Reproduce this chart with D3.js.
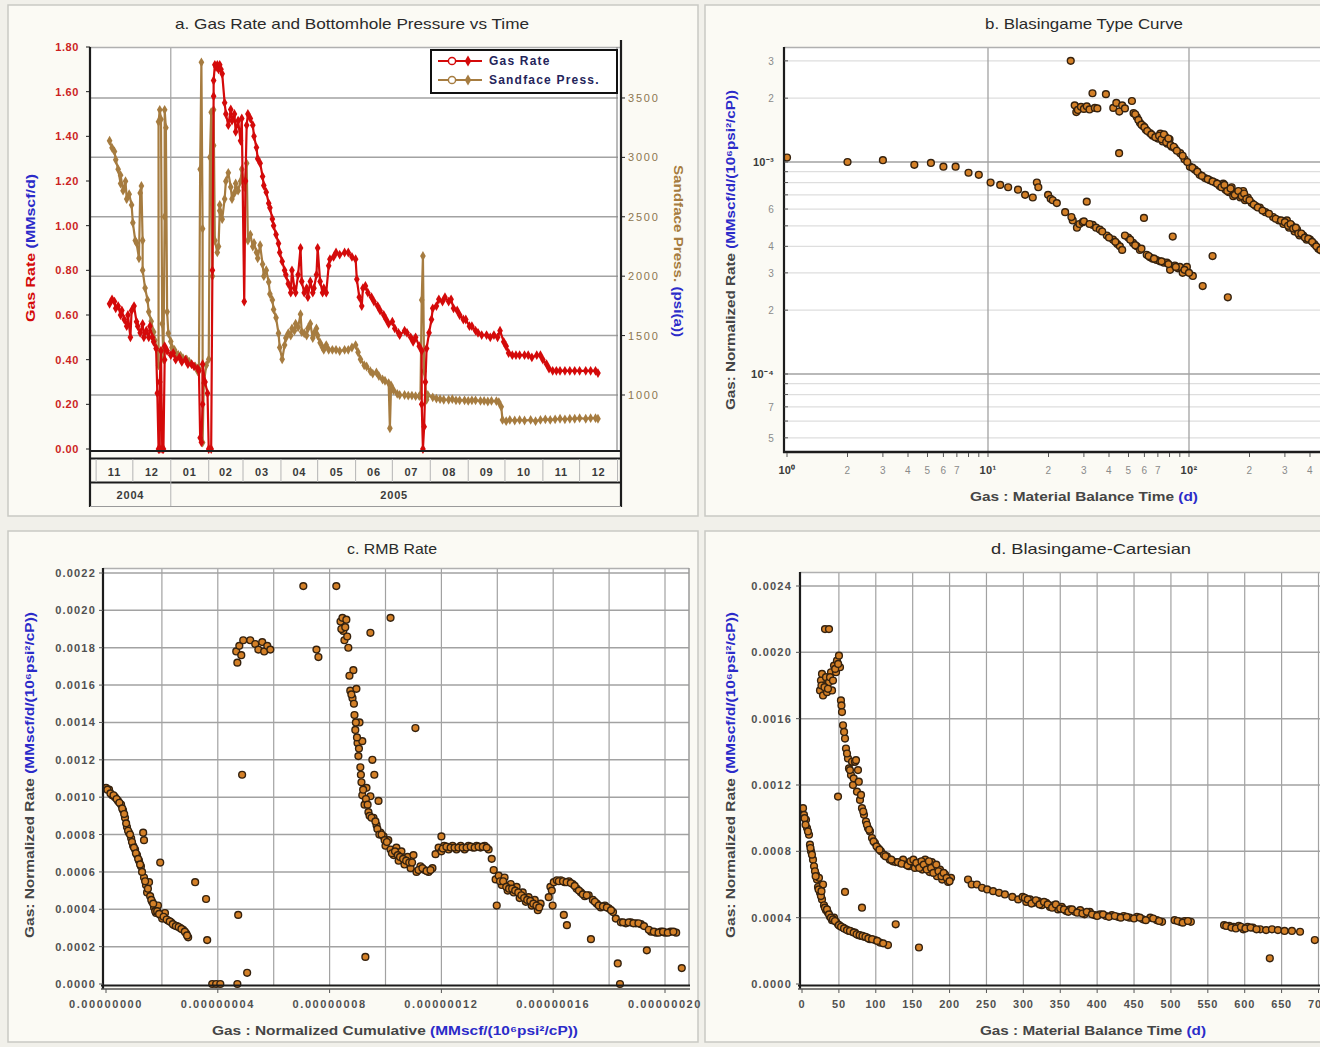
<!DOCTYPE html>
<html>
<head>
<meta charset="utf-8">
<script src="https://cdn.jsdelivr.net/npm/d3@7"></script>
<style>
  body { margin: 0; background: #f1f0ea; }
  svg text { font-family: "Liberation Sans", Arial, sans-serif; }
</style>
</head>
<body>
<svg id="chart" width="1320" height="1047"></svg>
<script>
// ---------------------------------------------------------------------------
// Well production data
// ---------------------------------------------------------------------------
// Daily records: [days since 2004-11-01, value]
const prodStart = new Date(2004, 10, 1);

// Gas rate, MMscf/d
const gasRate = [
  [11,0.65],[13,0.67],[15,0.66],[16,0.63],[18,0.64],[20,0.60],[21,0.62],[23,0.58],[25,0.55],[26,0.60],
  [28,0.50],[29,0.62],[31,0.64],[33,0.57],[34,0.55],[36,0.52],[38,0.56],[39,0.50],[41,0.53],[43,0.50],
  [44,0.55],[46,0.50],[47,0.48],[49,0.45],[50,0.25],[51,0.00],[52,0.00],[52,0.30],[53,0.44],[54,0.00],
  [55,0.00],[56,0.40],[56,0.46],[58,0.44],[61,0.42],[63,0.43],[65,0.40],[68,0.41],[70,0.39],[73,0.40],
  [75,0.38],[78,0.38],[80,0.37],[83,0.36],[84,0.35],[85,0.05],[86,0.03],[87,0.20],[87,0.38],[89,0.30],
  [91,0.25],[92,0.00],[94,0.00],[95,0.80],[96,1.58],[96,1.65],[97,1.72],[98,1.71],[99,1.72],[100,1.70],
  [101,1.72],[102,1.70],[103,1.68],[105,1.55],[106,1.50],[108,1.45],[110,1.52],[111,1.47],[113,1.50],[114,1.42],
  [116,1.47],[118,1.38],[119,1.48],[121,0.66],[122,1.20],[123,1.45],[124,1.50],[126,1.48],[128,1.45],[129,1.40],
  [131,1.35],[132,1.30],[134,1.28],[136,1.22],[137,1.18],[139,1.15],[141,1.10],[142,1.08],[144,1.03],[145,1.00],
  [147,0.96],[149,0.92],[150,0.88],[152,0.84],[154,0.80],[155,0.78],[157,0.74],[159,0.70],[160,0.80],[162,0.72],
  [163,0.70],[165,0.78],[167,0.90],[168,0.75],[170,0.70],[172,0.72],[173,0.68],[175,0.75],[177,0.70],[178,0.72],
  [180,0.78],[181,0.90],[183,0.75],[185,0.70],[186,0.72],[188,0.70],[190,0.82],[191,0.85],[194,0.86],[196,0.88],
  [199,0.87],[203,0.88],[206,0.88],[209,0.86],[212,0.85],[213,0.76],[215,0.68],[217,0.64],[218,0.72],[220,0.73],
  [222,0.70],[225,0.68],[227,0.66],[230,0.64],[232,0.62],[235,0.60],[237,0.58],[239,0.56],[242,0.57],[244,0.54],
  [247,0.52],[248,0.51],[252,0.53],[254,0.52],[257,0.50],[259,0.48],[261,0.50],[264,0.46],[266,0.44],[266,0.20],
  [267,0.00],[268,0.10],[269,0.30],[270,0.45],[272,0.52],[274,0.58],[275,0.63],[278,0.64],[280,0.67],[283,0.66],
  [285,0.68],[288,0.66],[290,0.67],[292,0.63],[295,0.62],[297,0.60],[300,0.58],[302,0.58],[305,0.55],[307,0.55],
  [310,0.53],[312,0.52],[315,0.51],[319,0.51],[322,0.50],[325,0.51],[328,0.50],[330,0.53],[333,0.48],[335,0.46],
  [337,0.43],[340,0.42],[343,0.42],[346,0.42],[350,0.42],[353,0.42],[356,0.41],[360,0.42],[363,0.42],[365,0.40],
  [368,0.38],[370,0.36],[373,0.35],[376,0.35],[379,0.35],[383,0.35],[387,0.35],[391,0.35],[395,0.35],[400,0.35],
  [404,0.35],[408,0.35],[410,0.34]
];

// Sandface pressure, psi(a)
const sandfacePress = [
  [11,3140],[13,3080],[15,3050],[16,2980],[18,2900],[20,2780],[20,2850],[22,2720],[24,2800],[25,2650],
  [27,2690],[29,2600],[30,2450],[32,2300],[33,2280],[35,2150],[36,2700],[37,2760],[38,2300],[38,2050],
  [40,1900],[42,1800],[43,1700],[45,1620],[47,1530],[48,1460],[50,1380],[51,1250],[51,3300],[52,3400],
  [53,3320],[54,1600],[55,1300],[56,2500],[56,3400],[57,3250],[58,1700],[59,1520],[61,1450],[62,1400],
  [64,1380],[65,1350],[67,1340],[69,1330],[71,1310],[74,1300],[76,1280],[78,1260],[81,1240],[83,1200],
  [84,1220],[85,2900],[86,3800],[87,2400],[87,600],[88,1100],[90,1250],[92,1300],[93,3000],[94,3380],
  [95,2000],[96,3100],[96,3400],[97,2300],[99,2200],[100,2250],[101,2550],[101,2600],[103,2480],[105,2650],
  [106,2800],[108,2870],[110,2750],[111,2650],[113,2700],[114,2780],[116,2720],[118,2800],[119,2900],[121,2750],
  [123,2950],[124,2300],[126,2350],[128,2250],[129,2280],[131,2200],[132,2150],[134,2260],[136,2100],[137,2000],
  [139,2050],[141,1950],[142,1850],[144,1800],[145,1720],[147,1650],[149,1520],[150,1400],[152,1300],[154,1420],
  [155,1480],[157,1520],[159,1500],[160,1560],[162,1540],[163,1600],[165,1570],[167,1680],[168,1530],[170,1520],
  [172,1500],[173,1560],[175,1600],[177,1480],[178,1520],[180,1560],[181,1500],[183,1440],[185,1400],[186,1380],
  [188,1420],[190,1380],[193,1380],[196,1380],[199,1370],[203,1380],[206,1380],[209,1400],[212,1420],[214,1360],
  [216,1300],[219,1250],[221,1240],[224,1200],[226,1180],[229,1190],[231,1160],[234,1130],[236,1120],[239,1100],
  [240,720],[241,1080],[243,1040],[246,1010],[248,1000],[252,1000],[255,995],[258,995],[261,990],[264,990],
  [265,1000],[266,1800],[267,2170],[268,1200],[270,960],[271,1000],[275,980],[278,970],[281,965],[284,960],
  [288,960],[291,965],[294,955],[297,955],[301,955],[304,950],[307,955],[310,955],[314,950],[317,950],
  [320,945],[323,950],[327,948],[329,940],[331,900],[332,790],[335,780],[338,790],[342,785],[346,790],
  [350,785],[355,790],[359,780],[363,790],[367,795],[371,790],[375,795],[379,800],[383,795],[387,800],
  [391,800],[395,805],[400,800],[404,805],[408,805],[410,800]
];

// Blasingame type curve: [material balance time (d), normalized rate (1e-4 MMscf/d/(10^6 psi^2/cP))]
const typeCurvePts = [
  [1.0,10.5],[2.0,10.0],[3.0,10.2],[4.3,9.7],[5.2,9.9],[6.0,9.5],[6.9,9.5],[8.0,8.9],[9.0,8.7],[10.3,8.0],
  [11.5,7.8],[12.6,7.6],[14.1,7.4],[15.3,7.0],[16.7,6.8],[17.5,8.0],[17.8,7.6],[19.9,7.0],[20.5,6.7],[21.0,6.6],
  [22.0,6.4],[24.2,5.8],[26.4,5.3],[27.7,4.9],[28.5,5.1],[29.6,5.2],[31.0,6.5],[33.2,5.05],[34.5,4.9],[36.0,4.8],
  [39.0,4.5],[41.9,4.3],[44.0,4.1],[45.3,4.0],[46.5,3.85],[49.8,4.4],[52.7,4.15],[55.0,4.0],[57.0,3.85],[59.7,5.45],
  [61.6,3.65],[64.0,3.55],[66.0,3.5],[69.0,3.45],[71.7,3.4],[75.0,3.35],[77.6,3.35],[80.5,3.1],[83.0,4.45],[85.0,3.25],
  [88.0,3.15],[90.0,3.2],[93.0,3.0],[97.6,3.2],[104.5,2.9],[117,2.6],[131,3.6],[156,2.3],
  [26,5.5],[30,5.25],[32,5.1],[37,4.7],[40,4.4],[43,4.2],[48,4.5],[51,4.3],[54,4.05],[58,3.9],
  [63,3.6],[67,3.5],[73,3.4],[79,3.3],[86,3.2],[95,3.1],[100,3.0],
  [25.8,30],[27.0,18.5],[27.5,17.2],[28.0,17.6],[29.0,18.2],[30.0,17.8],[31.0,18.3],[32.0,17.7],[33.1,21.1],[34.0,18.0],
  [35.0,17.9],[38.6,20.9],[42.0,18.0],[43.5,19.0],[44.9,11.0],[45.0,17.3],[46.5,18.5],[48.0,17.9],[52.0,19.4],[53.0,17.0],
  [55.0,16.3],[57.0,15.3],[59.0,14.8],[61.0,14.2],[63.9,13.7],[66.0,13.3],[70.0,12.9],[72.0,13.6],[74.0,12.5],[76.0,13.2],
  [78.0,12.2],[80.0,12.8],[82.0,11.8],[85.0,11.6],[90.4,11.0],[95.0,10.3],[101,9.5],[107,9.2],[113,8.7],[120,8.4],
  [127,8.2],[135,8.0],[142,7.7],[148,7.9],[152,7.4],[158,7.2],[163,7.6],[166,6.9],[172,7.1],[180,6.8],
  [186,7.3],[190,6.6],[196,6.8],[205,6.4],[215,6.2],[225,6.1],[240,5.8],[262,5.5],[280,5.3],[295,5.1],
  [307,5.3],[315,4.9],[325,5.0],[335,4.7],[345,4.8],[355,4.5],[370,4.5],[385,4.3],[400,4.3],[420,4.1],
  [440,3.9],[460,3.8],[480,3.7],
  [54,16.8],[56,15.8],[58,15.0],[60,14.6],[62,14.0],[65,13.5],[68,13.1],[71,13.3],[73,12.8],[75,13.5],
  [77,12.4],[79,12.9],[81,12.0],[84,11.8],[87,11.3],[93,10.7],[98,10.0],[104,9.4],[110,9.0],[116,8.6],
  [124,8.3],[131,8.1],[138,7.9],[145,7.6],[150,7.8],[155,7.3],[161,7.5],[169,7.0],[176,7.3],[183,6.9],
  [188,7.1],[193,6.7],[200,6.6],[210,6.3],[220,6.1],[232,5.9],[250,5.7],[270,5.4],[287,5.3],[300,5.2],
  [311,5.0],[320,5.1],[330,4.85],[340,4.9],[350,4.6],[362,4.6],[377,4.4],[392,4.35],[410,4.2],[430,4.0],[450,3.85]
];

// RMB rate: [normalized cumulative (1e-8 MMscf/(10^6 psi^2/cP)), normalized rate (1e-4)]
const rmbPts = [
  [0.00,10.5],[0.11,10.4],[0.22,10.1],[0.32,10.0],[0.43,9.8],[0.54,9.6],[0.61,9.3],[0.68,8.9],[0.75,8.4],[0.82,8.1],
  [0.90,7.8],[0.97,7.4],[1.04,7.2],[1.11,6.9],[1.18,6.6],[1.25,6.3],[1.33,8.1],[1.36,7.7],[1.36,5.7],[1.43,5.3],
  [1.47,4.9],[1.54,5.45],[1.58,4.7],[1.65,4.4],[1.72,4.1],[1.79,3.8],[1.86,4.2],[1.94,6.5],[1.94,3.7],[2.01,3.5],
  [2.11,3.8],[2.22,3.4],[2.33,3.3],[2.44,3.15],[2.54,3.1],[2.65,3.0],[2.76,2.9],[2.87,2.7],[2.94,2.5],[3.19,5.45],
  [3.58,4.55],[3.62,2.35],[3.80,0],[3.94,0],[4.09,0],[4.70,0],[4.73,3.7],[5.05,0.6],
  [0.05,10.4],[0.16,10.2],[0.27,10.1],[0.38,9.9],[0.48,9.7],[0.58,9.4],[0.65,9.1],[0.72,8.6],[0.79,8.2],[0.86,8.0],
  [0.93,7.6],[1.0,7.3],[1.07,7.0],[1.15,6.7],[1.22,6.4],[1.29,6.0],[1.40,5.5],[1.5,5.1],[1.62,4.5],[1.69,4.3],
  [1.76,3.9],[1.83,3.9],[1.9,3.75],[2.06,3.6],[2.17,3.45],[2.28,3.35],[2.39,3.2],[2.5,3.1],[2.6,3.05],[2.7,2.95],
  [2.82,2.8],[2.9,2.6],
  [4.66,17.8],[4.70,17.2],[4.77,18.1],[4.84,17.6],[4.91,18.4],[4.87,11.2],[5.16,18.4],[5.34,18.2],[5.45,17.9],[5.59,18.3],
  [5.66,17.8],[5.77,18.1],[5.88,17.9],[7.06,21.3],[7.53,17.9],[7.60,17.5],[8.24,21.3],
  [8.39,19.4],[8.46,19.6],[8.49,18.9],[8.53,18.4],[8.60,19.5],[8.67,18.0],[8.74,15.7],[8.82,15.3],[8.85,16.8],[8.89,14.4],
  [8.92,13.6],[8.96,15.8],[9.00,12.9],[9.03,12.2],[9.07,14.0],[9.10,11.6],[9.14,10.8],[9.17,10.1],[9.17,13.0],[9.25,9.6],
  [9.28,1.45],[9.32,10.5],[9.39,9.2],[9.46,18.8],[9.46,10.05],[9.53,12.0],[9.57,8.9],[9.60,11.2],[9.68,8.5],[9.75,9.8],
  [9.82,8.1],[9.93,7.9],[10.0,7.4],[10.1,7.7],[10.18,19.6],[10.18,7.2],[10.29,6.9],[10.39,7.3],[10.47,6.6],[10.57,7.1],
  [10.68,6.4],[10.79,6.8],[10.9,6.2],[11.0,6.9],[11.07,13.7],[11.11,6.0],[11.25,6.3],[11.4,6.1],[11.54,6.0],[11.68,6.2],
  [8.42,19.0],[8.56,19.1],[8.63,18.6],[8.71,16.5],[8.78,15.5],[8.87,15.0],[8.94,14.0],[8.98,13.2],[9.05,12.6],[9.12,11.2],
  [9.2,10.4],[9.3,9.9],[9.36,9.6],[9.43,9.0],[9.5,8.9],[9.64,8.7],[9.71,8.3],[9.78,8.0],[9.86,8.0],[9.97,7.7],
  [10.05,7.6],[10.23,7.0],[10.34,7.1],[10.44,6.9],[10.52,6.8],[10.63,6.7],[10.74,6.6],[10.85,6.5],[10.95,6.5],[11.18,6.1],
  [11.32,6.2],[11.47,6.05],[11.61,6.1],
  [11.79,6.95],[11.9,7.3],[12.0,7.9],[12.0,7.1],[12.1,7.4],[12.26,7.2],[12.4,7.4],[12.54,7.2],[12.69,7.4],[12.83,7.2],
  [12.97,7.4],[13.12,7.3],[13.26,7.4],[13.4,7.3],[13.55,7.4],[13.69,7.2],[13.8,6.7],[13.87,6.1],[13.94,5.6],[13.98,4.2],
  [12.05,7.25],[12.18,7.35],[12.33,7.3],[12.47,7.3],[12.61,7.3],[12.76,7.3],[12.9,7.3],[13.05,7.35],[13.19,7.3],[13.33,7.35],
  [13.48,7.35],[13.62,7.3],
  [14.05,5.8],[14.16,5.3],[14.26,5.7],[14.37,5.0],[14.48,5.35],[14.59,4.9],[14.69,5.2],[14.8,4.6],[14.91,4.9],[15.02,4.4],
  [15.12,4.65],[15.23,4.2],[15.34,4.5],[15.45,3.95],[15.55,4.3],
  [14.1,5.5],[14.21,5.5],[14.32,5.2],[14.42,5.1],[14.53,5.1],[14.64,5.0],[14.75,4.9],[14.86,4.75],[14.96,4.6],[15.07,4.5],
  [15.18,4.45],[15.29,4.3],[15.4,4.2],[15.5,4.1],
  [15.84,4.65],[15.9,5.2],[15.98,4.2],[16.02,5.45],[16.13,5.55],[16.27,5.55],[16.38,3.7],[16.41,5.45],[16.49,3.15],[16.56,5.5],
  [16.7,5.35],[16.84,5.1],[16.99,4.9],[17.13,4.7],[17.27,4.75],[17.35,2.4],[17.42,4.5],[17.56,4.3],[17.7,4.1],[17.85,4.2],
  [17.99,4.05],[18.14,3.85],[18.24,3.5],[18.31,1.1],[18.39,0],
  [15.95,5.0],[16.2,5.5],[16.35,5.5],[16.48,5.45],[16.63,5.4],[16.77,5.25],[16.92,5.0],[17.06,4.8],[17.2,4.75],[17.49,4.4],
  [17.63,4.2],[17.78,4.15],[17.92,4.1],[18.07,3.95],
  [18.42,3.3],[18.6,3.25],[18.78,3.3],[18.96,3.25],[19.14,3.2],[19.35,1.8],[19.5,2.8],[19.68,2.75],[19.85,2.8],[20.0,2.75],
  [20.2,2.8],[20.4,2.75],[20.6,0.85],
  [18.5,3.3],[18.7,3.3],[18.87,3.25],[19.05,3.25],[19.25,3.1],[19.42,2.9],[19.6,2.8],[19.77,2.75],[19.93,2.8],[20.1,2.75],[20.3,2.8]
];

// Blasingame cartesian: [material balance time (d), normalized rate (1e-4)]
const cartesianPts = [
  [1.4,10.6],[2.7,10.2],[5.4,9.9],[6.8,9.4],[9.5,9.0],[10.8,8.4],[12.2,8.0],[14.9,7.5],[16.3,7.1],[19.0,6.6],
  [20.3,6.3],[21.7,5.85],[23.0,6.4],[24.4,5.5],[27.1,5.1],[28.5,6.0],[29.8,4.75],[32.5,4.45],[35.2,4.3],[37.9,4.05],
  [40.7,3.85],[43.4,4.0],[46.1,3.75],[48.8,3.6],[51.5,3.5],[55.6,3.4],[59.6,3.3],[63.7,3.2],[67.8,3.15],[71.8,3.1],
  [75.9,2.95],[79.9,2.9],[84.0,2.85],[88.1,2.8],[92.1,2.7],[98.9,2.65],[105.7,2.5],[116.5,2.35],
  [3.5,10.0],[4.8,9.6],[8.1,9.2],[11.5,8.2],[13.5,7.8],[17.6,6.8],[18.5,6.5],[22.5,5.7],[25.7,5.3],[26.4,5.6],
  [31,4.6],[33.9,4.5],[36.6,4.2],[39.3,4.0],[42,3.9],[44.7,3.8],[50,3.55],[53,3.45],[57,3.35],[61,3.25],
  [65,3.2],[70,3.1],[74,3.0],[78,2.95],[82,2.9],[86,2.85],[90,2.75],[95,2.7],[102,2.6],[110,2.45],
  [58.3,5.55],[81.3,4.6],[127,3.6],[158.5,2.2],
  [31.2,21.4],[36.6,21.4],[24.4,17.7],[25.7,18.3],[27.1,18.7],[28.5,17.4],[29.8,18.0],[32.5,18.5],[33.9,17.6],[36.6,18.2],
  [39.3,18.8],[40.7,17.7],[43.4,19.2],[46.1,18.8],[47.4,19.5],[50.1,19.8],[51.5,19.1],[48.8,11.3],[52.8,17.1],[54.2,16.4],
  [55.6,15.6],[58.3,14.8],[59.6,14.2],[62.3,13.6],[63.7,13.0],[66.4,12.6],[67.8,13.4],[69.1,12.0],[71.8,13.4],[73.2,13.5],
  [74.5,11.6],[75.9,12.9],[78.6,11.1],[81.3,10.6],[84.0,10.2],[86.7,9.8],[89.4,9.4],[92.1,9.2],[94.9,8.8],[98.9,8.5],
  [103,8.2],[107,8.0],[111,7.8],[115,7.7],[119,7.5],[123,7.4],[127,7.35],[133,7.3],[137,7.5],[141,7.2],
  [145,7.1],[149,7.35],[153,7.0],[157,7.2],[160,7.35],[163,6.9],[167,7.5],[171,7.1],[173,6.75],[176,7.35],
  [180,7.0],[183,6.5],[187,6.9],[190,6.3],[194,6.6],[198,6.15],[202,6.4],
  [26.4,18.0],[30.5,17.9],[35.2,17.8],[38,18.5],[42,18.3],[45,19.0],[49,19.3],[53.5,16.8],[57,15.2],[61,13.9],
  [65,12.9],[70,12.4],[77,12.2],[80,11.4],[83,10.4],[88,9.6],[91,9.3],[97,8.6],[101,8.3],[105,8.1],
  [113,7.7],[121,7.5],[130,7.35],[135,7.25],[143,7.15],[147,7.4],
  [151,7.5],[155,7.3],[159,7.0],[162,7.4],[165,7.2],[169,6.9],[172,7.4],[175,7.0],[178,6.7],[182,7.2],
  [185,6.8],[189,6.5],[192,6.7],[196,6.4],[200,6.2],
  [225,6.3],[230,6.0],[237,6.0],[244,5.8],[251,5.7],[259,5.6],[267,5.5],[275,5.4],[285,5.25],[293,5.1],
  [299,5.25],[304,4.95],[309,5.1],[314,4.9],[320,5.0],[325,4.75],[331,4.9],[336,4.65],[341,4.75],[347,4.5],
  [352,4.65],[358,4.4],[363,4.5],[370,4.35],[377,4.45],[383,4.2],[390,4.35],[397,4.15],[404,4.2],[412,4.1],
  [420,4.15],[428,4.05],[436,4.1],[444,4.0],[454,4.05],[462,3.9],[472,4.0],[481,3.85],[488,3.75],[505,3.85],
  [512,3.75],[519,3.8],[527,3.75],[572,3.55],[579,3.5],[585,3.45],[592,3.5],[598,3.3],[604,3.45],[611,3.4],
  [621,3.3],[629,3.25],[634,1.55],[637,3.3],[645,3.25],[654,3.2],[664,3.2],[675,3.15],[695,2.65],
  [302,5.2],[306,5.1],[311,4.85],[317,5.05],[322,4.8],[328,4.95],[333,4.8],[339,4.6],[344,4.8],[350,4.55],
  [355,4.5],[361,4.35],[366,4.5],[373,4.3],[380,4.25],[386,4.35],[393,4.2],[400,4.1],[408,4.2],[416,4.05],
  [424,4.1],[432,4.0],[440,4.05],[450,3.95],[458,4.0],[466,3.85],[476,3.95],[484,3.8],[509,3.8],[516,3.7],
  [523,3.8],[575,3.5],[582,3.4],[588,3.35],[595,3.45],[601,3.35],[608,3.4],[616,3.3]
];

// Axis tick sets
const rateTicks = [0, 0.2, 0.4, 0.6, 0.8, 1.0, 1.2, 1.4, 1.6, 1.8];
const pressTicks = [1000, 1500, 2000, 2500, 3000, 3500];
const logTimeTicks = [
  [1,"10⁰"],[2,"2"],[3,"3"],[4,"4"],[5,"5"],[6,"6"],[7,"7"],
  [10,"10¹"],[20,"2"],[30,"3"],[40,"4"],[50,"5"],[60,"6"],[70,"7"],
  [100,"10²"],[200,"2"],[300,"3"],[400,"4"]
];
const logRateTicks = [
  [30,"3"],[20,"2"],[10,"10⁻³"],[6,"6"],[4,"4"],[3,"3"],[2,"2"],[1,"10⁻⁴"],[0.7,"7"],[0.5,"5"]
];
const cumTicks = [0, 4, 8, 12, 16, 20];
const rmbRateTicks = [0, 2, 4, 6, 8, 10, 12, 14, 16, 18, 20, 22];
const mbtTicks = d3.range(0, 701, 50);
const cartRateTicks = [0, 4, 8, 12, 16, 20, 24];

// ---------------------------------------------------------------------------
// Styles
// ---------------------------------------------------------------------------
const COL = {
  red: "#d40a0a", brown: "#a67c40", grid: "#a2a2a2", gridLight: "#dedede",
  axis: "#1c1c1c", text: "#3c3c3c", tick: "#505050", blue: "#2b2bc9",
  dotFill: "#d48027", dotStroke: "#35220f", panel: "#fbfaf4", frame: "#c9c9c4"
};

const svg = d3.select("#chart");
const defs = svg.append("defs");

function clip(id, x, y, w, h) {
  defs.append("clipPath").attr("id", id)
    .append("rect").attr("x", x).attr("y", y).attr("width", w).attr("height", h);
  return `url(#${id})`;
}

function panelBox(x, y, w, h) {
  svg.append("rect").attr("x", x).attr("y", y).attr("width", w).attr("height", h)
    .attr("fill", COL.panel).attr("stroke", COL.frame).attr("stroke-width", 1.5);
}

function title(txt, cx, y, len) {
  svg.append("text").attr("x", cx).attr("y", y).attr("text-anchor", "middle")
    .attr("font-size", 15).attr("fill", "#2a2a2a")
    .attr("textLength", len).attr("lengthAdjust", "spacingAndGlyphs").text(txt);
}

// Two-coloured axis title: label part, then units in blue
function axisTitle(parts, x, y, rotate, len) {
  const t = svg.append("text")
    .attr("transform", `translate(${x},${y}) rotate(${rotate})`)
    .attr("text-anchor", "middle").attr("font-size", 12).attr("font-weight", "bold")
    .attr("textLength", len).attr("lengthAdjust", "spacingAndGlyphs");
  parts.forEach(([s, c]) => t.append("tspan").attr("fill", c).text(s));
}

function hline(g, x1, x2, y, color, w) {
  g.append("line").attr("x1", x1).attr("x2", x2).attr("y1", y).attr("y2", y)
    .attr("stroke", color).attr("stroke-width", w);
}
function vline(g, x, y1, y2, color, w) {
  g.append("line").attr("x1", x).attr("x2", x).attr("y1", y1).attr("y2", y2)
    .attr("stroke", color).attr("stroke-width", w);
}

function scatter(g, data, x, y, clipUrl) {
  g.append("g").attr("clip-path", clipUrl)
    .selectAll("circle").data(data).join("circle")
    .attr("cx", d => x(d[0])).attr("cy", d => y(d[1])).attr("r", 3.4)
    .attr("fill", COL.dotFill).attr("stroke", COL.dotStroke).attr("stroke-width", 1.4);
}

function tickText(g, x, y, txt, anchor, opts = {}) {
  g.append("text").attr("x", x).attr("y", y).attr("text-anchor", anchor)
    .attr("font-size", opts.size || 11).attr("font-weight", opts.weight || "bold")
    .attr("letter-spacing", opts.ls == null ? 1 : opts.ls)
    .attr("fill", opts.color || COL.tick).text(txt);
}

// ---------------------------------------------------------------------------
// Panel frames
// ---------------------------------------------------------------------------
panelBox(8, 5, 690, 511);
panelBox(705, 5, 640, 511);
panelBox(8, 531, 690, 511);
panelBox(705, 531, 640, 511);

// ---------------------------------------------------------------------------
// a. Gas rate and bottomhole pressure vs time
// ---------------------------------------------------------------------------
{
  const g = svg.append("g");
  const toDate = d => d3.timeDay.offset(prodStart, d);
  const x = d3.scaleTime().domain([new Date(2004, 9, 27), new Date(2006, 0, 3)]).range([90, 620]);
  const yRate = d3.scaleLinear().domain([0, 1.8]).range([449, 47]);
  const yPress = d3.scaleLinear().domain([537, 3929]).range([450, 47]);

  g.append("rect").attr("x", 90).attr("y", 47).attr("width", 530).attr("height", 404).attr("fill", "#fff");
  pressTicks.forEach(p => hline(g, 90, 618, yPress(p), COL.grid, 1.5));
  const jan05 = x(new Date(2005, 0, 1));
  vline(g, jan05, 47, 451, COL.grid, 1.2);
  hline(g, 90, 620, 47.5, "#b0b0b0", 1.5);

  const cp = clip("clipA", 90, 44, 530, 410);
  const series = [
    { data: sandfacePress, y: yPress, color: COL.brown },
    { data: gasRate, y: yRate, color: COL.red }
  ];
  series.forEach(s => {
    const sg = g.append("g").attr("clip-path", cp);
    sg.append("path").datum(s.data)
      .attr("d", d3.line().x(d => x(toDate(d[0]))).y(d => s.y(d[1])))
      .attr("fill", "none").attr("stroke", s.color).attr("stroke-width", 2.2);
    sg.selectAll("path.m").data(s.data).join("path").attr("class", "m")
      .attr("transform", d => `translate(${x(toDate(d[0]))},${s.y(d[1])})`)
      .attr("d", d3.symbol(d3.symbolDiamond, 28)).attr("fill", s.color);
  });

  // axes lines
  vline(g, 90, 47, 507, COL.axis, 2.2);
  vline(g, 617, 47, 451, "#8a8a8a", 1.2);
  vline(g, 621, 40, 507, COL.axis, 2.2);
  hline(g, 90, 621, 451, COL.axis, 2.2);

  // left (rate) axis
  rateTicks.forEach(v => {
    hline(g, 86, 90, yRate(v), COL.axis, 1);
    tickText(g, 79, yRate(v) + 4, v.toFixed(2), "end", { color: "#cc1f1f", ls: 0.6 });
  });
  // right (pressure) axis
  pressTicks.forEach(v => {
    hline(g, 621, 625, yPress(v), COL.axis, 1);
    tickText(g, 628, yPress(v) + 4, String(v), "start", { color: "#8c7650", weight: "normal", ls: 1.8 });
  });

  // month / year band
  hline(g, 90, 621, 458.5, COL.axis, 2);
  hline(g, 90, 621, 482.5, COL.axis, 2);
  hline(g, 90, 621, 506.5, "#9a9a9a", 1);
  const months = d3.timeMonth.range(new Date(2004, 10, 1), new Date(2006, 0, 1));
  months.forEach(m => {
    const x0 = x(m), x1 = x(d3.timeMonth.offset(m, 1));
    vline(g, x0, 459, 482, "#b4b4b4", 1);
    tickText(g, (x0 + x1) / 2, 476, d3.timeFormat("%m")(m), "middle", { size: 11, color: "#3a3a3a", ls: 0.8 });
  });
  vline(g, x(new Date(2006, 0, 1)), 459, 482, "#b4b4b4", 1);
  vline(g, jan05, 482, 506, "#b4b4b4", 1);
  tickText(g, (90 + jan05) / 2, 499, "2004", "middle", { size: 11, color: "#3a3a3a", ls: 0.8 });
  tickText(g, (jan05 + x(new Date(2006, 0, 1))) / 2, 499, "2005", "middle", { size: 11, color: "#3a3a3a", ls: 0.8 });

  // legend
  const lg = g.append("g");
  lg.append("rect").attr("x", 431).attr("y", 50).attr("width", 186).attr("height", 43)
    .attr("fill", "#fff").attr("stroke", "#111").attr("stroke-width", 2);
  [["Gas Rate", COL.red, 61], ["Sandface Press.", COL.brown, 80]].forEach(([lab, c, ly]) => {
    hline(lg, 438, 482, ly, c, 2);
    lg.append("circle").attr("cx", 452).attr("cy", ly).attr("r", 3.6)
      .attr("fill", "#fff").attr("stroke", c).attr("stroke-width", 1.5);
    lg.append("path").attr("transform", `translate(468,${ly})`)
      .attr("d", d3.symbol(d3.symbolDiamond, 36)).attr("fill", c);
    lg.append("text").attr("x", 489).attr("y", ly + 4).attr("font-size", 12).attr("font-weight", "bold")
      .attr("letter-spacing", 1.2).attr("fill", "#24245a").text(lab);
  });

  title("a. Gas Rate and Bottomhole Pressure vs Time", 352, 29, 354);
  axisTitle([["Gas Rate ", COL.red], ["(MMscf/d)", COL.blue]], 35, 248, -90, 148);
  axisTitle([["Sandface Press. ", COL.brown], ["(psi(a))", COL.blue]], 674, 251, 90, 172);
}

// ---------------------------------------------------------------------------
// b. Blasingame type curve (log-log)
// ---------------------------------------------------------------------------
{
  const g = svg.append("g");
  const x = d3.scaleLog().domain([1, 100]).range([787, 1189]);
  const y = d3.scaleLog().domain([1, 10]).range([374, 162]);
  g.append("rect").attr("x", 784).attr("y", 47).attr("width", 560).attr("height", 405).attr("fill", "#fff");

  const minor = [0.5,0.6,0.7,0.8,0.9,2,3,4,5,6,7,8,9,20,30];
  minor.forEach(v => hline(g, 784, 1320, y(v), COL.gridLight, 1.2));
  [1, 10].forEach(v => hline(g, 784, 1320, y(v), COL.grid, 1.5));
  [10, 100].forEach(v => vline(g, x(v), 47, 452, COL.grid, 1.3));
  hline(g, 784, 1320, 47.5, "#b0b0b0", 1.5);

  scatter(g, typeCurvePts, x, y, clip("clipB", 785, 47, 560, 404));

  vline(g, 784, 47, 453, COL.axis, 2.2);
  hline(g, 783, 1320, 452, COL.axis, 2.4);

  // minor ticks along both axes
  const xMinor = [1,2,3,4,5,6,7,8,9,10,20,30,40,50,60,70,80,90,100,200,300,400,500,600];
  xMinor.forEach(v => vline(g, x(v), 453, 457, "#555", 1));
  [0.5,0.6,0.7,0.8,0.9,1,2,3,4,5,6,7,8,9,10,20,30].forEach(v => hline(g, 784, 788, y(v), "#555", 1));

  logTimeTicks.forEach(([v, lab]) => {
    const major = lab.startsWith("10");
    tickText(g, x(v), 474, lab, "middle", { size: major ? 11 : 10, color: major ? "#3a3a3a" : "#8a8a8a", weight: major ? "bold" : "normal", ls: 0.3 });
  });
  logRateTicks.forEach(([v, lab]) => {
    const major = lab.startsWith("10");
    tickText(g, 774, y(v) + 4, lab, "end", { size: major ? 11 : 10, color: major ? "#3a3a3a" : "#8a8a8a", weight: major ? "bold" : "normal", ls: 0.3 });
  });

  title("b. Blasingame Type Curve", 1084, 29, 198);
  axisTitle([["Gas : Material Balance Time ", "#454545"], ["(d)", COL.blue]], 1084, 501, 0, 228);
  axisTitle([["Gas: Normalized Rate ", "#454545"], ["(MMscf/d/(10⁶psi²/cP))", COL.blue]], 735, 250, -90, 320);
}

// ---------------------------------------------------------------------------
// c. RMB rate
// ---------------------------------------------------------------------------
{
  const g = svg.append("g");
  const x = d3.scaleLinear().domain([0, 20]).range([106, 665]);
  const y = d3.scaleLinear().domain([0, 22]).range([984, 573]);
  g.append("rect").attr("x", 103).attr("y", 568).attr("width", 586).attr("height", 418).attr("fill", "#fff");

  d3.range(2, 21, 2).forEach(v => vline(g, x(v), 568, 986, COL.grid, 1.2));
  rmbRateTicks.filter(v => v > 0).forEach(v => hline(g, 103, 689, y(v), COL.grid, 1.5));
  hline(g, 103, 689, 568.5, "#b0b0b0", 1.5);
  vline(g, 689, 568, 986, "#9a9a9a", 1.5);

  scatter(g, rmbPts, x, y, clip("clipC", 103, 568, 586, 425));

  vline(g, 103, 568, 989, COL.axis, 2.2);
  hline(g, 101, 690, 985.5, COL.axis, 2);
  hline(g, 101, 690, 989, "#555", 1.5);

  cumTicks.forEach(v => {
    vline(g, x(v), 989, 993, "#555", 1);
    tickText(g, x(v), 1008, (v * 1e-8).toFixed(8), "middle", { size: 11, ls: 1.6 });
  });
  rmbRateTicks.forEach(v => {
    hline(g, 99, 103, y(v), "#555", 1);
    tickText(g, 96, y(v) + 4, (v * 1e-4).toFixed(4), "end", { size: 11, ls: 1.2 });
  });

  title("c. RMB Rate", 392, 554, 90);
  axisTitle([["Gas : Normalized Cumulative ", "#454545"], ["(MMscf/(10⁶psi²/cP))", COL.blue]], 395, 1035, 0, 366);
  axisTitle([["Gas: Normalized Rate ", "#454545"], ["(MMscf/d/(10⁶psi²/cP))", COL.blue]], 34, 775, -90, 326);
}

// ---------------------------------------------------------------------------
// d. Blasingame - cartesian
// ---------------------------------------------------------------------------
{
  const g = svg.append("g");
  const x = d3.scaleLinear().domain([0, 700]).range([802, 1318.5]);
  const y = d3.scaleLinear().domain([0, 24]).range([984, 586]);
  g.append("rect").attr("x", 800).attr("y", 572).attr("width", 545).attr("height", 414).attr("fill", "#fff");

  mbtTicks.filter(v => v > 0).forEach(v => vline(g, x(v), 572, 986, COL.grid, 1.2));
  cartRateTicks.filter(v => v > 0).forEach(v => hline(g, 800, 1320, y(v), COL.grid, 1.5));
  hline(g, 800, 1320, 572.5, "#b0b0b0", 1.5);

  scatter(g, cartesianPts, x, y, clip("clipD", 800, 572, 545, 420));

  vline(g, 800, 572, 989, COL.axis, 2.2);
  hline(g, 798, 1320, 985.5, COL.axis, 2);
  hline(g, 798, 1320, 989, "#555", 1.5);

  mbtTicks.forEach(v => {
    vline(g, x(v), 989, 993, "#555", 1);
    tickText(g, x(v), 1008, String(v), "middle", { size: 11, ls: 0.8 });
  });
  cartRateTicks.forEach(v => {
    hline(g, 796, 800, y(v), "#555", 1);
    tickText(g, 792, y(v) + 4, (v * 1e-4).toFixed(4), "end", { size: 11, ls: 1.2 });
  });

  title("d. Blasingame-Cartesian", 1091, 554, 200);
  axisTitle([["Gas : Material Balance Time ", "#454545"], ["(d)", COL.blue]], 1093, 1035, 0, 226);
  axisTitle([["Gas: Normalized Rate ", "#454545"], ["(MMscf/d/(10⁶psi²/cP))", COL.blue]], 735, 775, -90, 326);
}
</script>
</body>
</html>
